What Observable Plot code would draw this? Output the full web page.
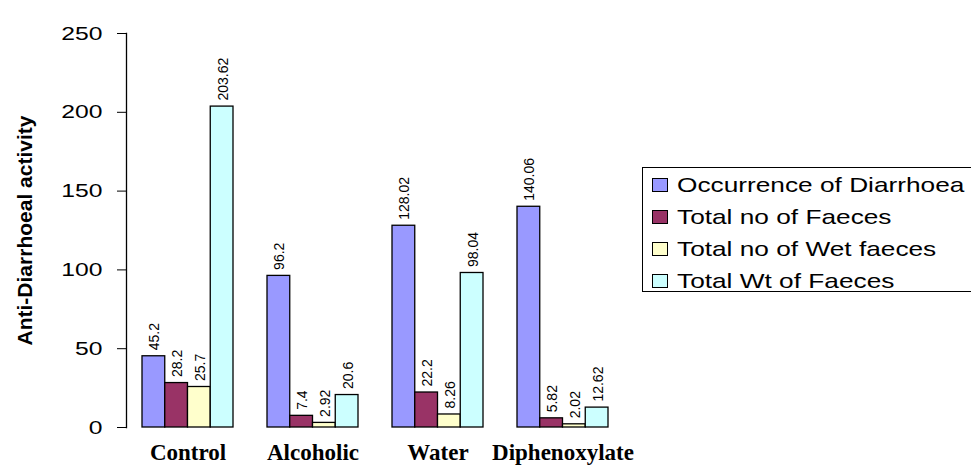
<!DOCTYPE html>
<html>
<head>
<meta charset="utf-8">
<script src="https://cdn.jsdelivr.net/npm/d3@7"></script>
<script src="https://cdn.jsdelivr.net/npm/@observablehq/plot@0.6"></script>
<style>
  html, body { margin: 0; padding: 0; background: #fff; overflow: hidden; }
  #wrap { position: relative; width: 971px; height: 465px; }
  #legend {
    position: absolute; left: 642px; top: 167px; width: 340px; height: 125px;
    border: 1.3px solid #000; background: #fff; box-sizing: border-box;
    font-family: "Liberation Sans", Arial, sans-serif; font-size: 21px; color: #000;
  }
  .row { position: absolute; left: 9px; height: 20px; display: flex; align-items: center; }
  .sw { width: 16px; height: 14px; border: 1.3px solid #000; box-sizing: border-box; margin-right: 9px; flex: none; }
  .lab { display: inline-block; transform: scaleX(1.25); transform-origin: left center; white-space: nowrap; }
</style>
</head>
<body>
<div id="wrap"></div>
<script>
const categories = ["Control", "Alcoholic", "Water", "Diphenoxylate"];
const seriesNames = ["Occurrence of Diarrhoea", "Total no of Faeces", "Total no of Wet faeces", "Total Wt of Faeces"];
const occurrence = [45.2, 96.2, 128.02, 140.06];
const totalFaeces = [28.2, 7.4, 22.2, 5.82];
const wetFaeces = [25.7, 2.92, 8.26, 2.02];
const totalWt = [203.62, 20.6, 98.04, 12.62];
const labelsText = [
  ["45.2", "96.2", "128.02", "140.06"],
  ["28.2", "7.4", "22.2", "5.82"],
  ["25.7", "2.92", "8.26", "2.02"],
  ["203.62", "20.6", "98.04", "12.62"]
];
const yTicks = [0, 50, 100, 150, 200, 250];
const colors = ["#9999FF", "#993366", "#FFFFCC", "#CCFFFF"];
const yTitle = "Anti-Diarrhoeal activity";

const seriesValues = [occurrence, totalFaeces, wetFaeces, totalWt];
const rows = [];
seriesValues.forEach((vals, s) => vals.forEach((v, i) => rows.push({category: categories[i], series: s, value: v, label: labelsText[s][i]})));

const bandWidth = 91;
const barW = bandWidth / 4;

const marks = [];
seriesValues.forEach((vals, s) => {
  const data = rows.filter(r => r.series === s);
  marks.push(Plot.barY(data, {
    x: "category", y: "value", fill: colors[s], stroke: "#000", strokeWidth: 1.3,
    insetLeft: s * barW, insetRight: (3 - s) * barW
  }));
  marks.push(Plot.text(data, {
    x: "category", y: "value", text: "label", rotate: -90, textAnchor: "start",
    dx: (s - 1.5) * barW + 1, dy: -6, fontSize: 14, fill: "#000"
  }));
});

const plot = Plot.plot({
  width: 971, height: 465,
  marginLeft: 126, marginRight: 347, marginTop: 33, marginBottom: 38,
  style: {fontFamily: "'Liberation Sans', Arial, sans-serif", background: "#fff", color: "#000"},
  x: {domain: categories, paddingInner: 0.272, paddingOuter: 0.128, axis: null},
  y: {domain: [0, 250], axis: null},
  marks: [
    Plot.axisY({ticks: yTicks, tickSize: 9, tickPadding: 15, fontSize: 19, label: null, stroke: "#000"}),
    Plot.frame({anchor: "left", stroke: "#000", strokeWidth: 1.3}),
    Plot.axisX({tickSize: 0, tickPadding: 16, fontSize: 23, fontWeight: "bold", fontFamily: "'Liberation Serif', 'Times New Roman', serif", label: null}),
    ...marks,
    Plot.text([yTitle], {text: d => d, frameAnchor: "left", textAnchor: "middle", dx: -101, rotate: -90, fontSize: 21, fontWeight: "bold", fill: "#000"})
  ]
});

plot.querySelectorAll('g[aria-label="y-axis tick label"] text').forEach(t => {
  t.setAttribute("transform", (t.getAttribute("transform") || "") + " scale(1.3,1)");
});

const wrap = document.getElementById("wrap");
wrap.appendChild(plot);

const legend = document.createElement("div");
legend.id = "legend";
seriesNames.forEach((name, i) => {
  const row = document.createElement("div");
  row.className = "row";
  row.style.top = (7 + i * 32) + "px";
  const sw = document.createElement("div");
  sw.className = "sw";
  sw.style.background = colors[i];
  const lab = document.createElement("span");
  lab.className = "lab";
  lab.textContent = name;
  row.appendChild(sw);
  row.appendChild(lab);
  legend.appendChild(row);
});
wrap.appendChild(legend);
</script>
</body>
</html>
